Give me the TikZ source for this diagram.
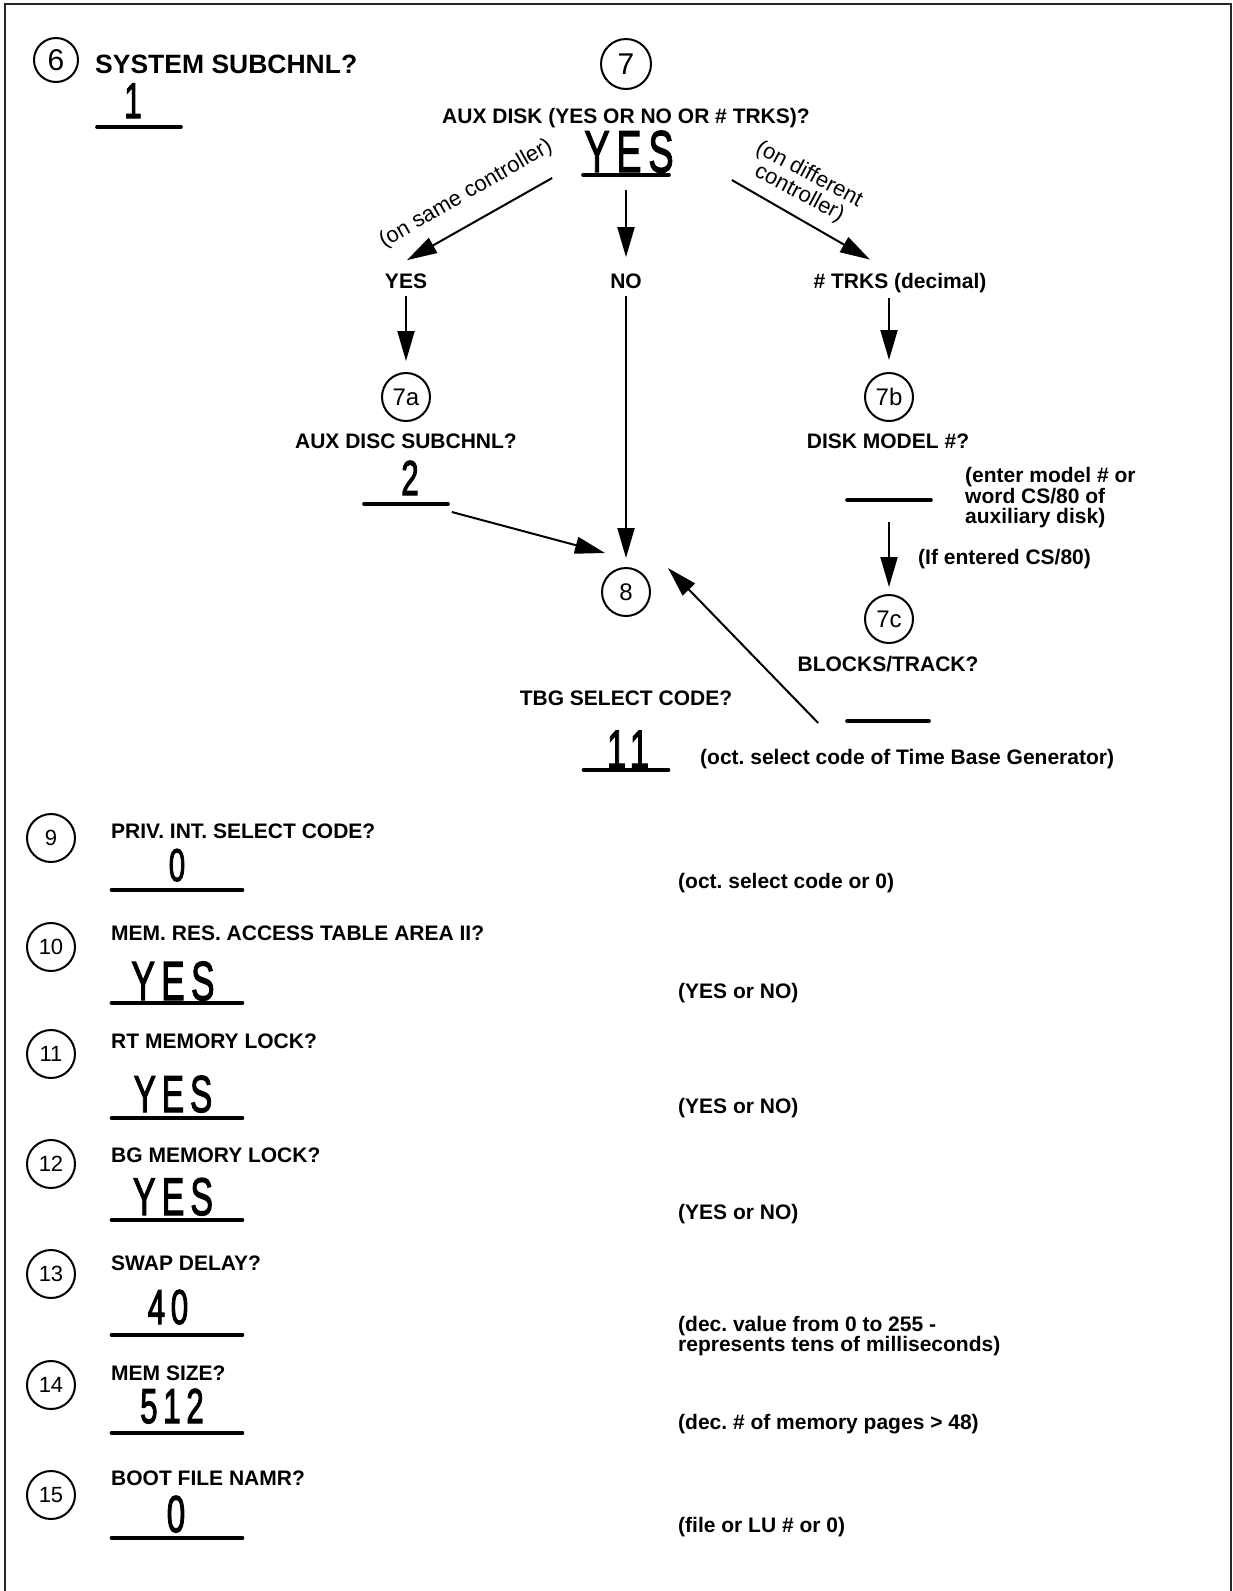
\documentclass[tikz,border=0pt]{standalone}
\usepackage{graphicx}
\usepackage{fontspec}
\setmainfont{Liberation Sans}
\newfontfamily\handfont[FakeBold=2.5, LetterSpace=18]{Liberation Sans}
\usetikzlibrary{
    arrows.meta
}
\newcommand{\hand}[2]{\scalebox{0.64}[1]{\handfont\fontsize{#1}{#1}\selectfont #2}}
\frenchspacing

\begin{document}
\begin{tikzpicture}[x=1pt, y=-1pt,
    num/.style={circle, draw, line width=2pt, inner sep=0pt, minimum size=48pt, font=\fontsize{24}{24}\selectfont},
    prompt/.style={anchor=base, inner sep=0pt, font=\bfseries\fontsize{21}{20}\selectfont},
    note/.style={anchor=base west, inner sep=0pt, align=left, font=\bfseries\fontsize{21}{20.5}\selectfont},
    answer/.style={anchor=base, inner sep=0pt},
    blank/.style={draw, line width=3.6pt, line join=round, inner sep=0pt, minimum height=0pt},
    remark/.style={inner sep=0pt, align=left, font=\fontsize{22}{20}\selectfont},
    arr/.style={line width=2pt, -{Triangle[length=30pt, width=17pt]}}
]
\useasboundingbox (0,0) rectangle (1233,1591);
\draw[line width=2.5pt, black!85] (5,1591) -- (5,4) -- (1231,4) -- (1231,1591);
%%
\node[num, minimum size=44pt, font=\fontsize{30}{30}\selectfont] (c6) at (56,60) {6};
\node[prompt, anchor=base west, font=\bfseries\fontsize{26.5}{26.5}\selectfont] (q6) at (95,73) {SYSTEM SUBCHNL?};
\node[answer] (a6) at (133,118) {\hand{50}{1}};
\node[blank, minimum width=84pt] (b6) at (139,127) {};
%%
\node[num, minimum size=50pt, font=\fontsize{30}{30}\selectfont] (c7) at (626,64) {7};
\node[prompt] (q7) at (626,123) {AUX DISK (YES OR NO OR \# TRKS)?};
\node[answer] (a7) at (629,172) {\hand{59}{YES}};
\node[blank, minimum width=86pt] (b7) at (626,175) {};

\node[prompt] (optY) at (406,288) {YES};
\node[prompt] (optN) at (626,288) {NO};
\node[prompt] (optT) at (900,288) {\# TRKS (decimal)};

\node[remark, rotate=30] (r7a) at (466,194) {(on same controller)};
\node[remark, rotate=-28] (r7b) at (804,184) {(on different\\\hspace{10pt}controller)};

\draw[arr] ([shift={(-29,3)}]b7.west) -- ([shift={(1,-13)}]optY.north);
\draw[arr, shorten <=13pt, shorten >=16pt] (b7) -- (optN);
\draw[arr] ([shift={(61,5)}]b7.east) -- ([shift={(-30,-13)}]optT.north);
%%
\node[num] (c7a) at (406,397) {7a};
\node[prompt] (q7a) at (406,448) {AUX DISC SUBCHNL?};
\node[answer] (a7a) at (410,495) {\hand{49}{2}};
\node[blank, minimum width=84pt] (b7a) at (406,504) {};
\draw[arr, shorten <=8pt, shorten >=11pt] (optY) -- (c7a);
%%
\node[num] (c7b) at (889,397) {7b};
\node[prompt] (q7b) at (888,448) {DISK MODEL \#?};
\node[blank, minimum width=84pt] (b7b) at (889,500) {};
\node[note, anchor=west] (n7b) at (965,498) {(enter model \# or\\word CS/80 of\\auxiliary disk)};
\node[note] (n7c) at (918,564) {(If entered CS/80)};
\draw[arr, shorten <=5pt, shorten >=12pt] (optT.south -| c7b) -- (c7b);
%%
\node[num] (c7c) at (889,619) {7c};
\node[prompt] (q7c) at (888,671) {BLOCKS/TRACK?};
\node[blank, minimum width=82pt] (b7c) at (888,721) {};
\draw[arr, shorten <=20pt, shorten >=7pt] (b7b) -- (c7c);
%%
\node[num] (c8) at (626,592) {8};
\draw[arr, shorten <=8pt, shorten >=9pt] (optN) -- (c8);
\draw[arr] ([shift={(2,8)}]b7a.east) -- ([shift={(-21,-39)}]c8.center);
\draw[arr] ([shift={(-27,2)}]b7c.west) -- ([shift={(42,-24)}]c8.center);
%%
\node[prompt] (qtbg) at (626,705) {TBG SELECT CODE?};
\node[answer] (atbg) at (628,768) {\hand{54}{11}};
\node[blank, minimum width=85pt] (btbg) at (626,770) {};
\node[note] (ntbg) at (700,764) {(oct. select code of Time Base Generator)};
%%
\node[num, font=\fontsize{22}{22}\selectfont] (c9) at (51,838) {9};
\node[prompt, anchor=base west] (q9) at (111,838) {PRIV. INT. SELECT CODE?};
\node[answer] (a9) at (177,881) {\hand{46}{0}};
\node[blank, minimum width=131pt] (b9) at (177,890) {};
\node[note] (n9) at (678,888) {(oct. select code or 0)};
%
\node[num, font=\fontsize{22}{22}\selectfont] (c10) at (51,947) {10};
\node[prompt, anchor=base west] (q10) at (111,940) {MEM. RES. ACCESS TABLE AREA II?};
\node[answer] (a10) at (173,1000) {\hand{55}{YES}};
\node[blank, minimum width=131pt] (b10) at (177,1003) {};
\node[note] (n10) at (678,998) {(YES or NO)};
%
\node[num, font=\fontsize{22}{22}\selectfont] (c11) at (51,1054) {11};
\node[prompt, anchor=base west] (q11) at (111,1048) {RT MEMORY LOCK?};
\node[answer] (a11) at (173,1112) {\hand{52}{YES}};
\node[blank, minimum width=131pt] (b11) at (177,1118) {};
\node[note] (n11) at (678,1113) {(YES or NO)};
%
\node[num, font=\fontsize{22}{22}\selectfont] (c12) at (51,1164) {12};
\node[prompt, anchor=base west] (q12) at (111,1162) {BG MEMORY LOCK?};
\node[answer] (a12) at (173,1215) {\hand{53}{YES}};
\node[blank, minimum width=131pt] (b12) at (177,1220) {};
\node[note] (n12) at (678,1219) {(YES or NO)};
%
\node[num, font=\fontsize{22}{22}\selectfont] (c13) at (51,1274) {13};
\node[prompt, anchor=base west] (q13) at (111,1270) {SWAP DELAY?};
\node[answer] (a13) at (168,1324) {\hand{49}{40}};
\node[blank, minimum width=131pt] (b13) at (177,1335) {};
\node[note, anchor=west] (n13) at (678,1336) {(dec. value from 0 to 255 -\\represents tens of milliseconds)};
%
\node[num, font=\fontsize{22}{22}\selectfont] (c14) at (51,1385) {14};
\node[prompt, anchor=base west] (q14) at (111,1380) {MEM SIZE?};
\node[answer] (a14) at (172,1423) {\hand{49}{512}};
\node[blank, minimum width=131pt] (b14) at (177,1433) {};
\node[note] (n14) at (678,1429) {(dec. \# of memory pages > 48)};
%
\node[num, font=\fontsize{22}{22}\selectfont] (c15) at (51,1495) {15};
\node[prompt, anchor=base west] (q15) at (111,1485) {BOOT FILE NAMR?};
\node[answer] (a15) at (176,1532) {\hand{52}{0}};
\node[blank, minimum width=131pt] (b15) at (177,1538) {};
\node[note] (n15) at (678,1532) {(file or LU \# or 0)};
\end{tikzpicture}
\end{document}
